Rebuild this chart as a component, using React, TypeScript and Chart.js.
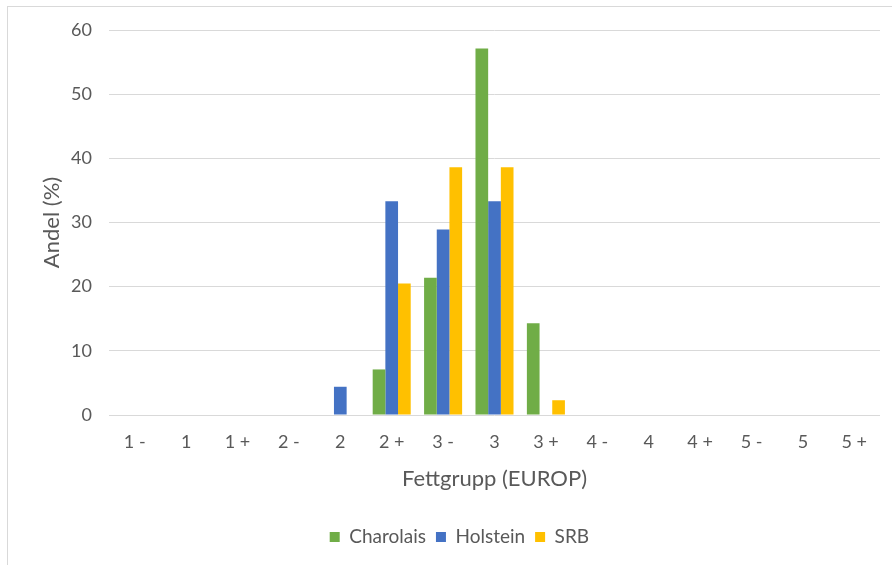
import React, { useEffect, useRef } from "react";
import { Chart, registerables } from "chart.js";

Chart.register(...registerables);

// Fettgrupp (EUROP) classes
const categories = ["1 -", "1", "1 +", "2 -", "2", "2 +", "3 -", "3", "3 +", "4 -", "4", "4 +", "5 -", "5", "5 +"];

// Share of carcasses per fat class (%)
const charolais = [0, 0, 0, 0, 0, 7.1, 21.4, 57.1, 14.3, 0, 0, 0, 0, 0, 0];
const holstein = [0, 0, 0, 0, 4.4, 33.3, 28.9, 33.3, 0, 0, 0, 0, 0, 0, 0];
const srb = [0, 0, 0, 0, 0, 20.5, 38.6, 38.6, 2.3, 0, 0, 0, 0, 0, 0];

const seriesNames = ["Charolais", "Holstein", "SRB"];
const seriesColors = ["#70AD47", "#4472C4", "#FFC000"];

const yTicks = [0, 10, 20, 30, 40, 50, 60];

const FONT = "Lato, 'Open Sans', sans-serif";
const TEXT = "#595959";
const GRID = "#D9D9D9";

export default function App() {
  const canvasRef = useRef<HTMLCanvasElement | null>(null);

  useEffect(() => {
    if (!canvasRef.current) return;
    const values = [charolais, holstein, srb];
    const chart = new Chart(canvasRef.current, {
      type: "bar",
      data: {
        labels: categories,
        datasets: values.map((v, i) => ({
          label: seriesNames[i],
          data: v,
          backgroundColor: seriesColors[i],
          borderWidth: 0,
          categoryPercentage: 0.74,
          barPercentage: 1.0,
        })),
      },
      options: {
        responsive: false,
        animation: false,
        layout: { padding: { top: 30, right: 12, left: 38.8, bottom: 8.5 } },
        plugins: {
          tooltip: { enabled: false },
          legend: {
            position: "bottom",
            labels: {
              boxWidth: 10,
              boxHeight: 10,
              padding: 10,
              color: TEXT,
              font: { family: FONT, size: 19 },
            },
          },
        },
        scales: {
          x: {
            grid: { display: false, drawTicks: false },
            border: { display: false },
            ticks: {
              color: TEXT,
              font: { family: FONT, size: 18 },
              padding: 16,
              maxRotation: 0,
              autoSkip: false,
            },
            title: {
              display: true,
              text: "Fettgrupp (EUROP)",
              color: TEXT,
              font: { family: FONT, size: 22 },
              padding: { top: 0, bottom: 25.3 },
            },
            afterFit: (scale: any) => {
              scale.height = 102.5;
            },
          },
          y: {
            min: 0,
            max: 60,
            grid: { color: GRID, lineWidth: 1, drawTicks: false },
            border: { display: false },
            afterBuildTicks: (scale: any) => {
              scale.ticks = yTicks.map((v) => ({ value: v }));
            },
            ticks: {
              color: TEXT,
              font: { family: FONT, size: 18 },
              padding: 17,
            },
            title: {
              display: true,
              text: "Andel (%)",
              color: TEXT,
              font: { family: FONT, size: 22 },
              padding: { top: 0, bottom: 0 },
            },
            afterFit: (scale: any) => {
              scale.width = 70.2;
            },
          },
        },
      },
    });
    return () => chart.destroy();
  }, []);

  return (
    <div style={{ position: "fixed", left: 0, top: 0, width: 892, height: 565, background: "#fff", overflow: "hidden" }}>
      <div
        style={{
          position: "absolute",
          left: 7,
          top: 6,
          width: 900,
          height: 600,
          borderLeft: "1px solid #D9D9D9",
          borderTop: "1px solid #D9D9D9",
        }}
      />
      <canvas ref={canvasRef} width={892} height={565} style={{ position: "absolute", left: 0, top: 0 }} />
    </div>
  );
}
